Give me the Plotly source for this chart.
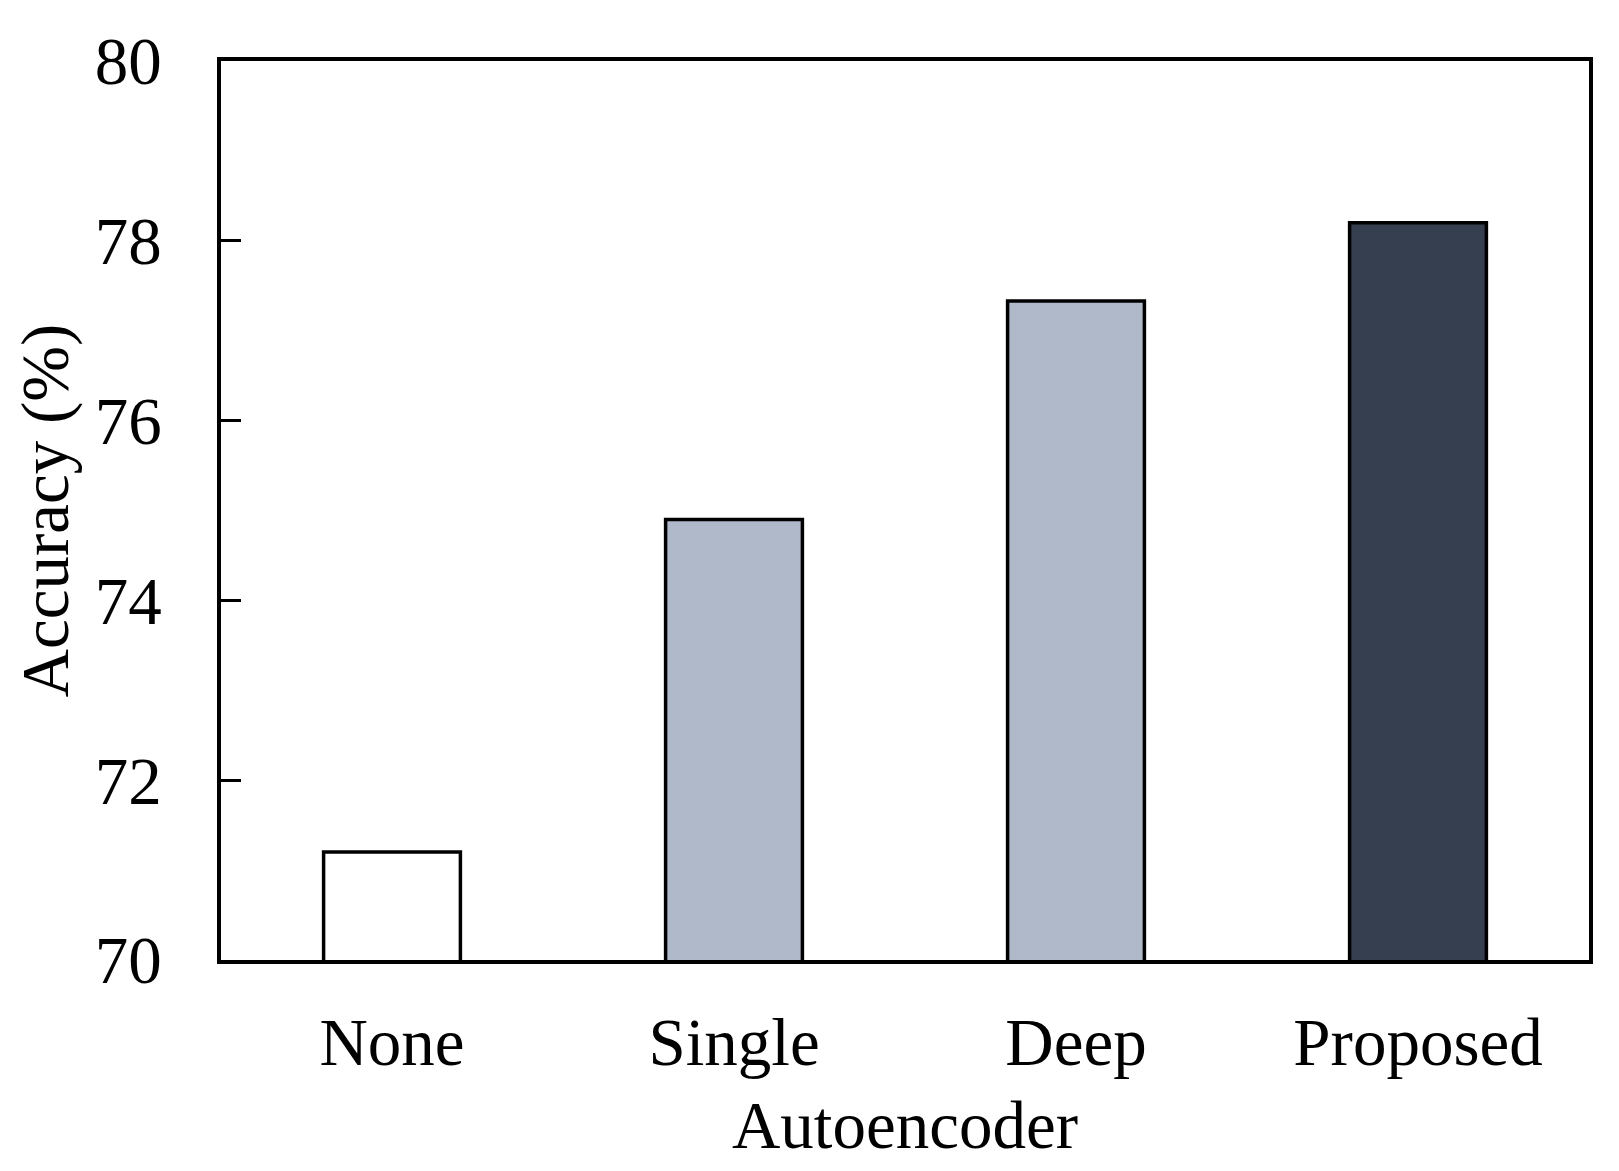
import plotly.graph_objects as go

categories = ["None", "Single", "Deep", "Proposed"]
accuracy = [71.2, 74.9, 77.33, 78.2]
bar_colors = ["#FFFFFF", "#B0B9CA", "#B0B9CA", "#363F4F"]
y_ticks = [70, 72, 74, 76, 78, 80]

FONT = "Liberation Serif, Times New Roman, serif"

fig = go.Figure(
    go.Bar(
        x=categories,
        y=accuracy,
        width=0.4,
        marker=dict(color=bar_colors, line=dict(color="black", width=3.5)),
    )
)

fig.update_layout(
    width=1619,
    height=1171,
    margin=dict(l=213, r=38, t=53, b=219),
    paper_bgcolor="white",
    plot_bgcolor="white",
    font=dict(family=FONT, size=67, color="black"),
    showlegend=False,
)

fig.update_xaxes(
    range=[-0.5, 3.5],
    showline=True,
    linecolor="black",
    linewidth=3.5,
    mirror=True,
    ticks="",
    showgrid=False,
    ticklabelstandoff=21,
    tickfont=dict(family=FONT, size=67, color="black"),
    title=dict(text="Autoencoder", font=dict(family=FONT, size=67, color="black"), standoff=24),
)

fig.update_yaxes(
    range=[70, 80],
    tickvals=y_ticks,
    showline=True,
    linecolor="black",
    linewidth=3.5,
    mirror=True,
    ticks="inside",
    ticklen=20,
    tickwidth=3,
    tickcolor="black",
    showgrid=False,
    zeroline=False,
    ticklabelstandoff=42,
    tickfont=dict(family=FONT, size=67, color="black"),
    title=dict(text="Accuracy (%)", font=dict(family=FONT, size=67, color="black"), standoff=10),
)

fig.write_html("out.html")
